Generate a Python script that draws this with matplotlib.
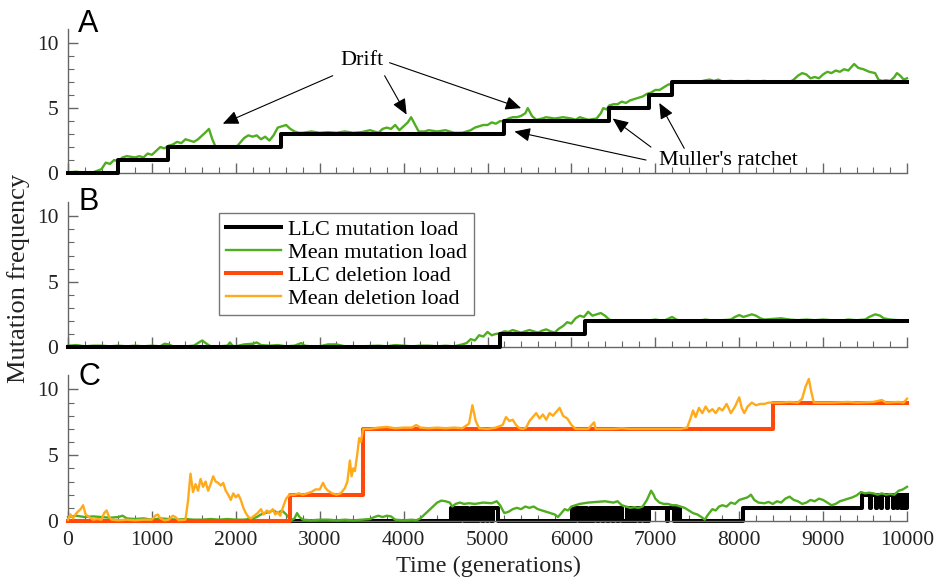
import matplotlib.pyplot as plt

# ---- data ----
# panel A
a_llc_t = [0, 600, 1190, 2540, 5200, 6450, 6920, 7200, 10000]
a_llc_v = [0, 1, 2, 3, 4, 5, 6, 7, 7]
a_mean_t = [0, 100, 200, 300, 400, 450, 500, 550, 600, 650, 700, 800, 850, 900, 950, 1000,
            1050, 1100, 1150, 1200, 1250, 1300, 1350, 1400, 1450, 1500, 1550, 1600, 1650, 1680,
            1720, 1760, 1800, 2000, 2020, 2060, 2100, 2150, 2200, 2250, 2300, 2350, 2400, 2450,
            2500, 2550, 2600, 2650, 2700, 2750, 2800, 2900, 3000, 3100, 3200, 3300, 3400, 3500,
            3600, 3700, 3750, 3800, 3850, 3900, 3950, 4000, 4050, 4090, 4130, 4180, 4250, 4300,
            4400, 4500, 4600, 4700, 4800, 4850, 4900, 4950, 5000, 5050, 5100, 5150, 5200, 5250,
            5300, 5350, 5400, 5450, 5480, 5530, 5580, 5650, 5700, 5800, 5900, 6000, 6050, 6100,
            6200, 6300, 6350, 6380, 6420, 6450, 6500, 6550, 6600, 6650, 6700, 6750, 6800, 6850,
            6900, 6950, 7000, 7050, 7100, 7150, 7200, 7250, 7300, 7400, 7500, 7600, 7650, 7700,
            7750, 7800, 7900, 8000, 8100, 8200, 8300, 8400, 8500, 8600, 8650, 8700, 8750, 8800,
            8850, 8900, 8950, 9000, 9050, 9100, 9150, 9200, 9250, 9300, 9370, 9420, 9480, 9550,
            9620, 9660, 9700, 9750, 9800, 9850, 9880, 9920, 9960, 10000]
a_mean_v = [0.05, 0.1, 0.0, 0.05, 0.3, 0.8, 0.7, 1.0, 0.9, 1.2, 1.3, 1.2, 1.3, 1.2, 1.5, 1.4,
            1.7, 2.0, 1.9, 2.1, 2.2, 2.4, 2.3, 2.6, 2.5, 2.4, 2.6, 2.9, 3.2, 3.4,
            2.6, 2.0, 2.0, 2.0, 2.1, 2.4, 2.7, 2.9, 2.8, 2.9, 2.6, 2.8, 2.5, 2.9,
            3.5, 3.6, 3.7, 3.4, 3.2, 3.1, 3.1, 3.2, 3.1, 3.15, 3.1, 3.2, 3.1, 3.15,
            3.3, 3.1, 3.4, 3.5, 3.4, 3.7, 3.3, 3.6, 3.9, 4.3, 3.8, 3.2, 3.2, 3.3,
            3.2, 3.3, 3.1, 3.1, 3.3, 3.5, 3.6, 3.7, 3.7, 3.9, 3.8, 4.0, 4.0, 4.2,
            4.3, 4.3, 4.4, 4.6, 5.0, 4.4, 4.1, 4.2, 4.3, 4.2, 4.3, 4.2, 4.1, 4.3,
            4.1, 4.2, 4.6, 5.0, 4.9, 5.2, 5.3, 5.3, 5.5, 5.4, 5.6, 5.7, 5.8, 5.9,
            6.1, 6.2, 6.4, 6.4, 6.6, 6.8, 6.9, 7.0, 7.0, 7.0, 7.0, 7.15, 7.2, 7.1,
            7.2, 7.05, 7.1, 7.05, 7.1, 7.05, 7.1, 7.0, 7.05, 7.0, 7.2, 7.5, 7.7, 7.6,
            7.3, 7.4, 7.3, 7.6, 7.8, 7.7, 7.9, 7.8, 8.0, 7.9, 8.4, 8.1, 8.0, 7.8,
            7.7, 7.2, 7.1, 7.15, 7.1, 7.4, 7.7, 7.5, 7.2, 7.3]

# panel B
b_llc_t = [0, 5150, 6160, 10000]
b_llc_v = [0, 1, 2, 2]
b_mean_t = [0, 100, 200, 300, 400, 500, 600, 700, 800, 900, 1000, 1100, 1150, 1200, 1250,
            1300, 1400, 1500, 1560, 1600, 1640, 1700, 1800, 1900, 1930, 1960, 2000, 2100,
            2200, 2250, 2300, 2400, 2500, 2600, 2700, 2780, 2820, 2900, 3000, 3100, 3200,
            3300, 3500, 3700, 3800, 3900, 4000, 4100, 4200, 4300, 4400, 4500, 4600, 4700,
            4750, 4800, 4850, 4900, 4950, 5000, 5050, 5100, 5150, 5200, 5250, 5300, 5350,
            5400, 5450, 5500, 5550, 5600, 5650, 5700, 5750, 5800, 5850, 5900, 5950, 6000,
            6050, 6100, 6150, 6200, 6250, 6300, 6350, 6400, 6450, 6500, 6600, 6700, 6800,
            6900, 7000, 7100, 7200, 7250, 7300, 7400, 7500, 7600, 7700, 7800, 7900, 7950,
            8000, 8050, 8100, 8150, 8200, 8250, 8300, 8400, 8500, 8600, 8700, 8800, 8900,
            9000, 9100, 9200, 9300, 9400, 9500, 9550, 9620, 9680, 9720, 9800, 9900, 10000]
b_mean_v = [0.1, 0.15, 0.05, 0.1, 0.1, 0.05, 0.1, 0.05, 0.1, 0.05, 0.1, 0.05, 0.25, 0.2, 0.05,
            0.05, 0.05, 0.1, 0.35, 0.5, 0.3, 0.05, 0.05, 0.1, 0.35, 0.1, 0.05, 0.2,
            0.25, 0.35, 0.15, 0.1, 0.15, 0.05, 0.1, 0.3, 0.1, 0.05, 0.05, 0.2, 0.2,
            0.05, 0.05, 0.1, 0.05, 0.15, 0.1, 0.05, 0.1, 0.1, 0.05, 0.1, 0.05, 0.2,
            0.3, 0.6, 0.5, 0.9, 0.8, 1.15, 0.9, 1.0, 1.05, 1.2, 1.15, 1.3, 1.2,
            1.1, 1.2, 1.3, 1.2, 1.1, 1.25, 1.35, 1.2, 1.1, 1.4, 1.6, 1.9, 1.8,
            2.2, 2.4, 2.3, 2.7, 2.4, 2.5, 2.6, 2.4, 2.1, 2.0, 2.05, 2.0, 2.05,
            2.0, 2.1, 2.0, 2.3, 2.1, 2.0, 2.05, 2.0, 2.1, 2.0, 2.05, 2.1, 2.3,
            2.45, 2.3, 2.4, 2.5, 2.4, 2.2, 2.1, 2.15, 2.2, 2.1, 2.05, 2.1, 2.05,
            2.1, 2.05, 2.0, 2.1, 2.05, 2.1, 2.3, 2.5, 2.4, 2.2, 2.1, 2.05, 2.0]

# panel C
c_llc_t = [0, 4560, 4585, 4600, 4625, 4640, 4665, 4690, 4720, 4745, 4770, 4800, 4830, 4850,
           4880, 4900, 4930, 4960, 4990, 5010, 5040, 5070, 5120,
           6010, 6035, 6060, 6085, 6110, 6140, 6165, 6190, 6220, 6250, 6275, 6300, 6330,
           6360, 6390, 6420, 6450, 6480, 6510, 6540, 6570, 6600,
           6660, 6690, 6710, 6740, 6770, 6800, 6830, 6860, 6890, 6910, 6930,
           7140, 7155, 7220, 7235, 7260, 7275, 7300, 8050, 9460,
           9560, 9575, 9630, 9645, 9690, 9705, 9760, 9775, 9830, 9845, 9880, 9895,
           9925, 9940, 9955, 9970, 9985, 10000]
c_llc_v = [0, 1, 0, 1, 0, 1, 0, 1, 0, 1, 0, 1, 0, 1,
           0, 1, 0, 1, 0, 1, 0, 1, 0,
           1, 0, 1, 0, 1, 0, 1, 0, 1, 0, 1, 0, 1,
           0, 1, 0, 1, 0, 1, 0, 1, 0,
           1, 0, 1, 0, 1, 0, 1, 0, 1, 0, 1,
           0, 1, 0, 1, 0, 1, 0, 1, 2,
           1, 2, 1, 2, 1, 2, 1, 2, 1, 2, 1, 2,
           1, 2, 1, 2, 1, 2]
c_del_t = [0, 2650, 3520, 8400, 10000]
c_del_v = [0, 2, 7, 9, 9]
c_mean_t = [0, 100, 200, 300, 400, 500, 600, 650, 700, 800, 900, 1000, 1100, 1200, 1300,
            1400, 1500, 1600, 1700, 1800, 1900, 2000, 2100, 2200, 2250, 2300, 2350, 2400,
            2450, 2500, 2550, 2600, 2660, 2700, 2730, 2760, 2800, 2900, 3000, 3100, 3200,
            3300, 3400, 3500, 3600, 3650, 3700, 3750, 3800, 3850, 3900, 4000, 4100, 4150,
            4200, 4250, 4300, 4350, 4400, 4450, 4500, 4550, 4580, 4620, 4670, 4720, 4780,
            4850, 4950, 5050, 5110, 5150, 5200, 5250, 5300, 5350, 5400, 5450, 5500, 5550,
            5600, 5650, 5700, 5750, 5800, 5840, 5880, 5920, 5960, 6000, 6050, 6100, 6200,
            6300, 6400, 6500, 6550, 6600, 6650, 6700, 6750, 6800, 6850, 6900, 6950, 6980,
            7000, 7050, 7100, 7150, 7200, 7250, 7300, 7350, 7400, 7450, 7500, 7550, 7590,
            7630, 7680, 7720, 7760, 7800, 7850, 7900, 7950, 8000, 8050, 8100, 8140, 8180,
            8230, 8300, 8350, 8400, 8450, 8500, 8550, 8600, 8650, 8700, 8750, 8800, 8850,
            8900, 8950, 9000, 9050, 9100, 9150, 9200, 9250, 9300, 9350, 9400, 9450, 9500,
            9550, 9600, 9650, 9700, 9750, 9800, 9850, 9900, 9950, 10000]
c_mean_v = [0.3, 0.4, 0.3, 0.35, 0.3, 0.25, 0.3, 0.4, 0.2, 0.15, 0.2, 0.1, 0.2, 0.15, 0.1,
            0.15, 0.1, 0.1, 0.15, 0.1, 0.15, 0.1, 0.1, 0.2, 0.3, 0.5, 0.6, 0.7,
            0.8, 0.6, 0.8, 0.5, 0.05, 0.2, 0.6, 0.3, 0.1, 0.05, 0.1, 0.1, 0.05,
            0.1, 0.05, 0.1, 0.15, 0.3, 0.4, 0.3, 0.4, 0.35, 0.1, 0.05, 0.1, 0.05,
            0.2, 0.5, 0.8, 1.1, 1.4, 1.55, 1.5, 1.4, 1.1, 1.3, 1.4, 1.3, 1.35,
            1.3, 1.4, 1.35, 1.5, 1.2, 0.6, 0.7, 0.9, 1.0, 0.9, 1.1, 1.0, 1.1,
            0.9, 0.8, 0.7, 0.6, 0.5, 0.3, 0.6, 0.9, 0.8, 1.1, 1.2, 1.3, 1.4,
            1.45, 1.5, 1.4, 1.5, 1.2, 1.1, 1.0, 1.05, 1.0, 1.1, 1.6, 2.3, 2.0,
            1.7, 1.4, 1.3, 1.3, 1.2, 1.2, 1.1, 1.0, 0.8, 0.6, 0.5, 0.3, 0.1,
            0.5, 0.9, 0.8, 1.1, 1.2, 1.1, 1.4, 1.3, 1.6, 1.7, 1.8, 2.0, 1.6,
            1.4, 1.35, 1.45, 1.3, 1.5, 1.4, 1.7, 1.85, 1.6, 1.5, 1.3, 1.4, 1.6,
            1.5, 1.7, 1.6, 1.4, 1.2, 1.3, 1.5, 1.6, 1.7, 1.8, 1.95, 2.2, 2.1,
            2.15, 2.1, 2.0, 2.1, 2.0, 2.05, 2.0, 2.3, 2.4, 2.6]
c_meandel_t = [0, 30, 60, 100, 150, 180, 210, 250, 300, 350, 400, 430, 460, 490, 520, 600,
               700, 800, 900, 1000, 1040, 1070, 1100, 1150, 1200, 1250, 1280, 1320, 1400,
               1430, 1460, 1490, 1520, 1550, 1580, 1610, 1640, 1670, 1700, 1730, 1760, 1790,
               1820, 1850, 1880, 1910, 1940, 1970, 2000, 2030, 2060, 2090, 2120, 2150, 2180,
               2220, 2260, 2300, 2330, 2370, 2400, 2440, 2470, 2500, 2530, 2560, 2600, 2640,
               2700, 2750, 2800, 2850, 2900, 2950, 3000, 3040, 3070, 3100, 3150, 3200, 3250,
               3300, 3330, 3360, 3380, 3400, 3420, 3450, 3470, 3490, 3520, 3600, 3700, 3800,
               3900, 4000, 4100, 4150, 4200, 4300, 4400, 4500, 4600, 4700, 4780, 4820, 4860,
               4900, 5000, 5100, 5180, 5220, 5260, 5300, 5340, 5380, 5420, 5460, 5500, 5540,
               5580, 5620, 5660, 5700, 5740, 5780, 5820, 5860, 5900, 5950, 6000, 6050, 6100,
               6200, 6270, 6290, 6400, 6500, 6600, 6700, 6800, 6900, 7000, 7100, 7200, 7300,
               7380, 7420, 7450, 7480, 7520, 7560, 7600, 7640, 7680, 7720, 7760, 7800, 7850,
               7900, 7950, 8000, 8030, 8060, 8100, 8150, 8200, 8250, 8300, 8350, 8400, 8500,
               8600, 8700, 8750, 8790, 8830, 8860, 8890, 8950, 9100, 9300, 9400, 9600, 9700,
               9750, 9900, 9960, 10000]
c_meandel_v = [0.1, 0.5, 0.2, 0.6, 0.9, 1.2, 0.5, 0.3, 0.1, 0.15, 0.1, 0.6, 0.8, 0.3, 0.1, 0.05,
               0.1, 0.05, 0.1, 0.1, 0.4, 0.5, 0.2, 0.05, 0.1, 0.4, 0.3, 0.05, 0.1,
               1.5, 3.6, 2.2, 2.8, 2.3, 3.2, 2.6, 3.0, 2.3, 2.8, 3.4, 3.0, 2.9,
               2.7, 2.9, 2.3, 2.0, 1.6, 2.1, 1.8, 2.0, 1.6, 1.0, 0.6, 0.3, 0.2,
               0.4, 0.6, 0.9, 0.5, 0.8, 0.6, 0.9, 0.5, 0.7, 0.4, 1.0, 1.7, 2.0,
               2.0, 2.1, 2.0, 2.1, 2.2, 2.4, 2.4, 2.9, 2.5, 2.3, 2.1, 2.0, 2.1,
               2.5, 3.0, 4.6, 3.4, 4.0, 3.8, 5.2, 6.3, 6.0, 7.0, 7.0, 7.1, 7.15,
               7.05, 7.1, 7.1, 7.3, 7.1, 7.05, 7.1, 7.05, 7.1, 7.05, 7.4, 8.8, 7.6,
               7.05, 7.0, 7.1, 7.3, 7.9, 7.6, 7.7, 7.3, 7.05, 7.0, 7.1, 7.6, 7.9,
               8.2, 7.8, 8.1, 7.7, 8.2, 8.0, 8.3, 8.6, 8.0, 7.8, 7.3, 7.0, 7.0,
               7.0, 7.5, 7.0, 7.0, 7.0, 7.05, 7.0, 7.0, 7.0, 7.0, 7.0, 7.0, 7.0,
               7.1, 7.8, 8.4, 7.9, 8.6, 8.2, 8.7, 8.3, 8.5, 8.2, 8.6, 8.4, 8.9,
               8.2, 8.7, 9.4, 8.6, 8.2, 8.7, 9.0, 8.8, 8.9, 8.9, 9.0, 9.0, 9.0,
               9.05, 9.0, 9.3, 10.2, 10.8, 9.8, 9.0, 9.0, 9.0, 9.05, 9.0, 9.05, 9.2,
               9.0, 9.05, 9.0, 9.3]

labels = ['LLC mutation load', 'Mean mutation load', 'LLC deletion load', 'Mean deletion load']
colors = ['black', '#4fae1f', '#ff4a0a', '#ffaa1a']

# ---- figure ----
plt.rcParams['font.family'] = 'Liberation Serif'
fig = plt.figure(figsize=(9.38, 5.8), dpi=100)
left, width = 68 / 938, 839 / 938
ax_a = fig.add_axes([left, 1 - 173 / 580, width, 144 / 580])
ax_b = fig.add_axes([left, 1 - 347 / 580, width, 145 / 580])
ax_c = fig.add_axes([left, 1 - 521 / 580, width, 146 / 580])

for ax in (ax_a, ax_b, ax_c):
    ax.set_xlim(0, 10000)
    ax.set_ylim(0, 11.1)
    for s in ('top', 'right'):
        ax.spines[s].set_visible(False)
    for s in ('left', 'bottom'):
        ax.spines[s].set_color('#666666')
        ax.spines[s].set_linewidth(1.0)
    ax.set_yticks([0, 5, 10])
    ax.set_yticks(range(0, 11), minor=True)
    ax.set_xticks(range(0, 10001, 1000))
    ax.set_xticks(range(0, 10001, 200), minor=True)
    ax.tick_params(which='both', direction='in', color='#666666', labelsize=15.5,
                   labelcolor='#222222', pad=7)
    ax.tick_params(which='major', length=7, width=1)
    ax.tick_params(which='minor', length=4, width=0.8)

ax_a.tick_params(axis='x', labelbottom=False)
ax_b.tick_params(axis='x', labelbottom=False)

lw_thick, lw_thin = 2.9, 1.7

# A
ax_a.plot(a_mean_t, a_mean_v, color=colors[1], lw=lw_thin, clip_on=False, zorder=2)
ax_a.plot(a_llc_t, a_llc_v, color=colors[0], lw=lw_thick, drawstyle='steps-post',
          clip_on=False, zorder=3)

# B
ax_b.plot(b_mean_t, b_mean_v, color=colors[1], lw=lw_thin, clip_on=False, zorder=2)
ax_b.plot(b_llc_t, b_llc_v, color=colors[0], lw=lw_thick, drawstyle='steps-post',
          clip_on=False, zorder=3)

# C
l1, = ax_c.plot(c_llc_t, c_llc_v, color=colors[0], lw=lw_thick, drawstyle='steps-post',
                clip_on=False, zorder=2)
l2, = ax_c.plot(c_mean_t, c_mean_v, color=colors[1], lw=lw_thin, clip_on=False, zorder=3)
l3, = ax_c.plot(c_del_t, c_del_v, color=colors[2], lw=lw_thick, drawstyle='steps-post',
                clip_on=False, zorder=4)
l4, = ax_c.plot(c_meandel_t, c_meandel_v, color=colors[3], lw=lw_thin, clip_on=False, zorder=5)

leg = ax_b.legend([l1, l2, l3, l4], labels, loc='upper left', bbox_to_anchor=(0.18, 0.924),
                  borderaxespad=0, fontsize=16, fancybox=False, framealpha=1,
                  edgecolor='#777777', handlelength=2.5, labelspacing=0.1,
                  handletextpad=0.3, borderpad=0.3)
leg.get_frame().set_linewidth(1.0)

# annotations in A
arrow = dict(arrowstyle='-|>,head_length=0.8,head_width=0.35', color='black', lw=0.8,
             mutation_scale=12, shrinkA=0, shrinkB=0)
ax_a.text(3500, 8.7, 'Drift', fontsize=16, ha='center', va='center')
ax_a.annotate('', xy=(1845, 3.8), xytext=(3155, 7.5), arrowprops=arrow)
ax_a.annotate('', xy=(4036, 4.5), xytext=(3774, 7.5), arrowprops=arrow)
ax_a.annotate('', xy=(5401, 5.0), xytext=(3833, 8.5), arrowprops=arrow)
ax_a.text(7048, 1.0, "Muller's ratchet", fontsize=16, ha='left', va='center')
ax_a.annotate('', xy=(5321, 3.2), xytext=(6889, 1.0), arrowprops=arrow)
ax_a.annotate('', xy=(6492, 4.2), xytext=(6948, 2.0), arrowprops=arrow)
ax_a.annotate('', xy=(7048, 5.4), xytext=(7345, 1.9), arrowprops=arrow)

# panel letters
for letter, ypix in (('A', 32), ('B', 210), ('C', 385)):
    fig.text(78 / 938, 1 - ypix / 580, letter, fontsize=22, family='Liberation Sans',
             ha='left', va='baseline')

fig.text(19 / 938, 1 - 278 / 580, 'Mutation frequency', rotation=90, fontsize=19,
         ha='center', va='center', color='#222222')
fig.text(488 / 938, 1 - 566 / 580, 'Time (generations)', fontsize=17.5,
         ha='center', va='center', color='#222222')

fig.savefig('out.png', dpi=100)
